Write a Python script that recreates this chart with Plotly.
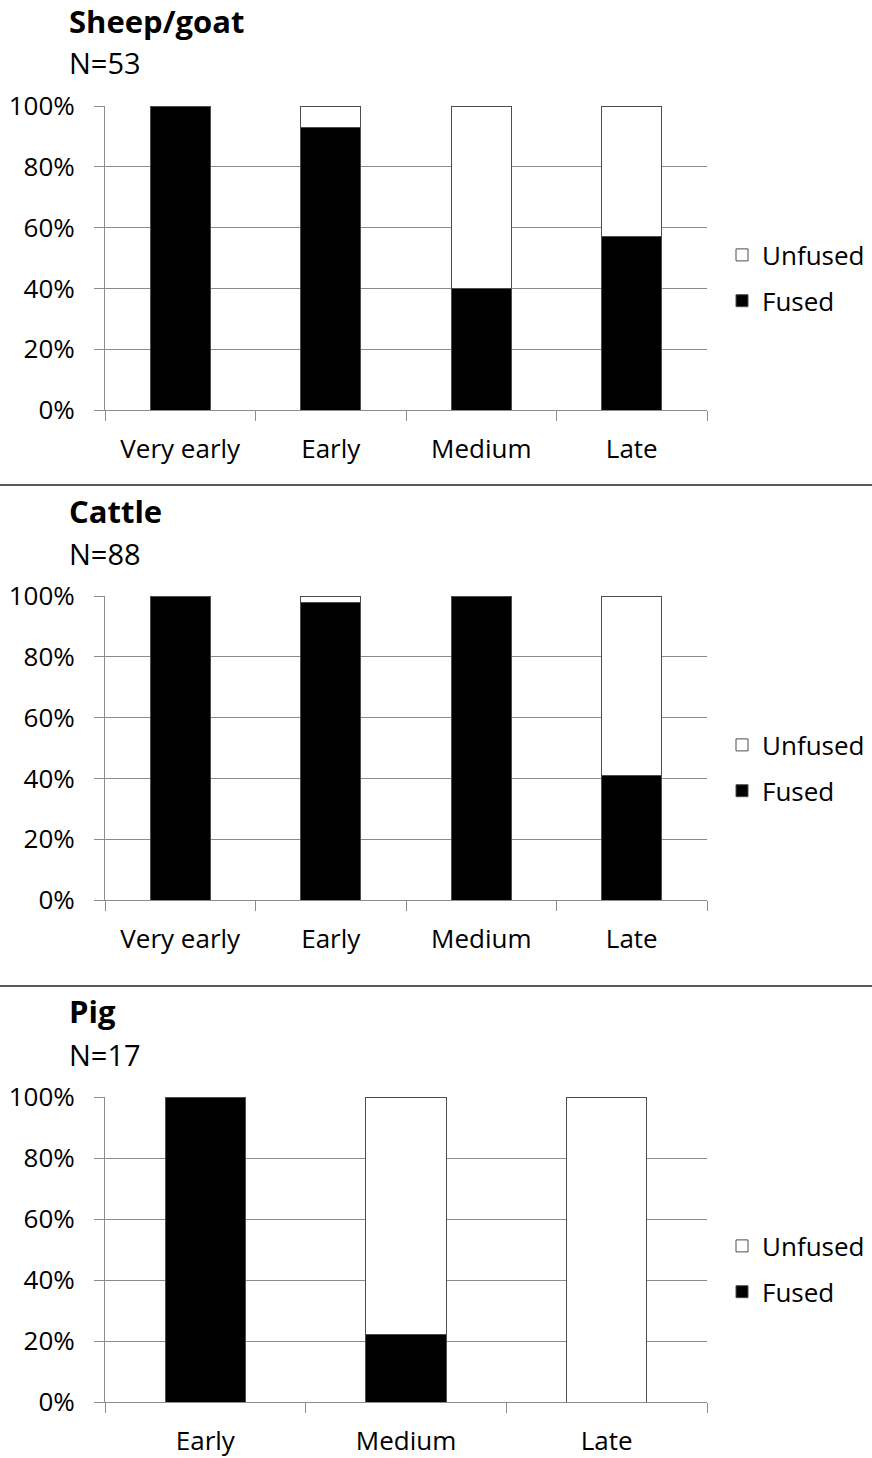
import plotly.graph_objects as go

# Fusion proportions (%) by fusion stage for each taxon
sheep_stages = ["Very early", "Early", "Medium", "Late"]
sheep_fused = [100, 93, 40, 57]
sheep_unfused = [0, 7, 60, 43]

cattle_stages = ["Very early", "Early", "Medium", "Late"]
cattle_fused = [100, 98, 100, 41]
cattle_unfused = [0, 2, 0, 59]

pig_stages = ["Early", "Medium", "Late"]
pig_fused = [100, 22, 0]
pig_unfused = [0, 78, 100]

panel_titles = ["Sheep/goat", "Cattle", "Pig"]
panel_counts = ["N=53", "N=88", "N=17"]
y_ticks = [0, 20, 40, 60, 80, 100]
y_tick_text = ["0%", "20%", "40%", "60%", "80%", "100%"]

W, H = 872, 1458
FONT = "Open Sans"
GRID = "#8c8c8c"
EDGE = "#4d4d4d"

# plot areas in pixels (top, bottom) for each panel
areas = [(106, 410), (596, 900), (1097, 1402)]
x_left, x_right = 105, 707
title_y = [21, 511, 1011]
count_y = [63, 553, 1054]
legend_mid = [278, 768, 1269]
separators = [485, 986]

panels = [
    (sheep_stages, sheep_fused, sheep_unfused),
    (cattle_stages, cattle_fused, cattle_unfused),
    (pig_stages, pig_fused, pig_unfused),
]


def py(v):
    return 1 - v / H


fig = go.Figure()
annotations = []
shapes = []

for i, (stages, fused, unfused) in enumerate(panels):
    n = i + 1
    xa = "x" if n == 1 else f"x{n}"
    ya = "y" if n == 1 else f"y{n}"
    leg = "legend" if n == 1 else f"legend{n}"
    fig.add_trace(go.Bar(
        x=stages, y=fused, name="Fused", xaxis=xa, yaxis=ya, legend=leg,
        legendgroup=f"f{n}", legendrank=2, width=0.4,
        marker=dict(color="black", line=dict(color=EDGE, width=1)),
    ))
    fig.add_trace(go.Bar(
        x=stages, y=unfused, name="Unfused", xaxis=xa, yaxis=ya, legend=leg,
        legendgroup=f"u{n}", legendrank=1, width=0.4,
        marker=dict(color="white", line=dict(color=EDGE, width=1)),
    ))
    top, bottom = areas[i]
    xkey = "xaxis" if n == 1 else f"xaxis{n}"
    ykey = "yaxis" if n == 1 else f"yaxis{n}"
    fig.update_layout({
        xkey: dict(
            domain=[x_left / W, x_right / W], anchor=ya, automargin=False,
            type="category", tickson="boundaries",
            ticks="outside", ticklen=10, tickcolor=GRID, tickwidth=1,
            showline=True, linecolor=GRID, linewidth=1,
            showgrid=False, zeroline=False,
            tickfont=dict(family=FONT, size=26, color="black"),
            ticklabelstandoff=16,
        ),
        ykey: dict(
            domain=[py(bottom), py(top)], anchor=xa, automargin=False,
            range=[0, 100], tickvals=y_ticks, ticktext=y_tick_text,
            ticks="outside", ticklen=10, tickcolor=GRID, tickwidth=1,
            showline=True, linecolor=GRID, linewidth=1,
            showgrid=True, gridcolor=GRID, gridwidth=1, zeroline=False,
            tickfont=dict(family=FONT, size=26, color="black"),
            ticklabelstandoff=14,
        ),
        leg: dict(
            x=722 / W, y=py(legend_mid[i]), xanchor="left", yanchor="middle",
            traceorder="grouped", tracegroupgap=9,
            font=dict(family=FONT, size=26, color="black"),
            bgcolor="rgba(0,0,0,0)", itemwidth=30,
        ),
    })
    annotations.append(dict(
        text="<b>" + panel_titles[i] + "</b>", x=67 / W, y=py(title_y[i]),
        xref="paper", yref="paper", xanchor="left", yanchor="middle",
        showarrow=False, font=dict(family=FONT, size=31, color="black"),
    ))
    annotations.append(dict(
        text=panel_counts[i], x=67 / W, y=py(count_y[i]),
        xref="paper", yref="paper", xanchor="left", yanchor="middle",
        showarrow=False, font=dict(family=FONT, size=29, color="black"),
    ))

for s in separators:
    shapes.append(dict(
        type="line", xref="paper", yref="paper", x0=0, x1=1,
        y0=py(s), y1=py(s), line=dict(color="#222222", width=1.5),
    ))

fig.update_layout(
    width=W, height=H, margin=dict(l=0, r=0, t=0, b=0, autoexpand=False),
    barmode="stack", bargap=0.6,
    paper_bgcolor="white", plot_bgcolor="white",
    annotations=annotations, shapes=shapes,
    showlegend=True,
)

fig.write_html("out.html")
